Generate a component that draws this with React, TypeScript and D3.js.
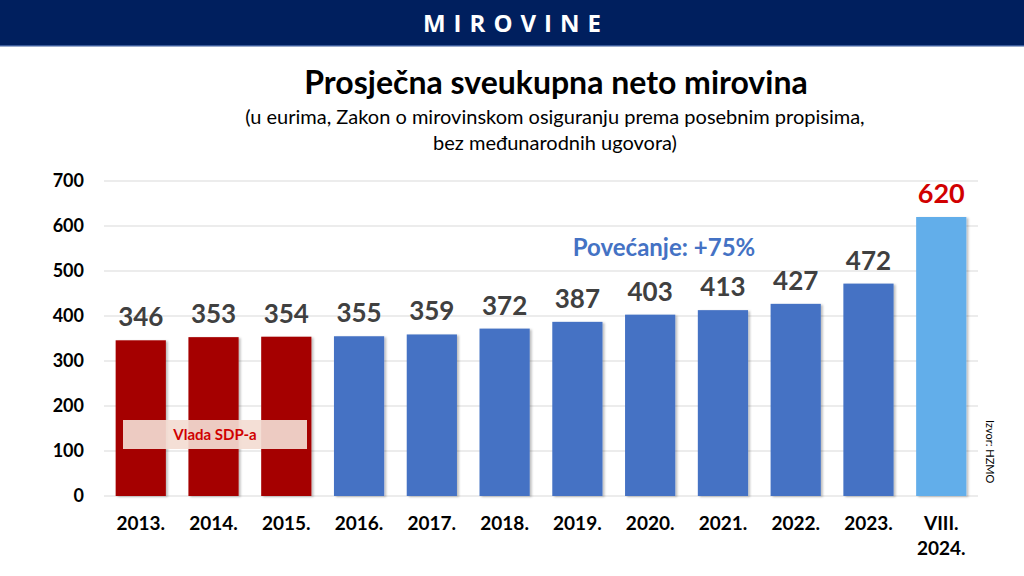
import React from "react";
import * as d3 from "d3";

const categories = ["2013.", "2014.", "2015.", "2016.", "2017.", "2018.", "2019.", "2020.", "2021.", "2022.", "2023.", "VIII.|2024."];
const values = [346, 353, 354, 355, 359, 372, 387, 403, 413, 427, 472, 620];
const groups = ["sdp", "sdp", "sdp", "hdz", "hdz", "hdz", "hdz", "hdz", "hdz", "hdz", "hdz", "current"];
const yTicks = [0, 100, 200, 300, 400, 500, 600, 700];

const W = 1024;
const H = 576;
const FONT = "Lato, 'Open Sans', sans-serif";
const colors: Record<string, string> = { sdp: "#A50000", hdz: "#4472C4", current: "#62AEEA" };

export default function App() {
  const x = d3.scaleBand<string>().domain(categories).range([104, 978]).paddingInner(0.31).paddingOuter(0.16);
  const y = d3.scaleLinear().domain([0, 700]).range([496, 181]);
  const bw = x.bandwidth();

  return (
    <svg width={W} height={H} style={{ position: "absolute", left: 0, top: 0, background: "#fff" }} fontFamily={FONT}>
      <defs>
        <filter id="sh" x="-10%" y="-5%" width="130%" height="110%">
          <feDropShadow dx="2" dy="1" stdDeviation="1.2" floodColor="#000" floodOpacity="0.25" />
        </filter>
      </defs>
      <rect x={0} y={0} width={W} height={46} fill="#001F5E" />
      <rect x={0} y={45} width={W} height={1.5} fill="#3A5A9A" />
      <text x={W / 2 + 4} y={32} textAnchor="middle" fill="#fff" fontSize={24} fontWeight={700} letterSpacing={8} fontFamily="'Open Sans', sans-serif">MIROVINE</text>

      <text x={556} y={94} textAnchor="middle" fontSize={32} fontWeight={700} fill="#000">Prosječna sveukupna neto mirovina</text>
      <text x={555} y={124} textAnchor="middle" fontSize={20} fill="#000">(u eurima, Zakon o mirovinskom osiguranju prema posebnim propisima,</text>
      <text x={555} y={150} textAnchor="middle" fontSize={20} fill="#000">bez međunarodnih ugovora)</text>

      {yTicks.map((t) => (
        <g key={t}>
          <line x1={104} x2={978} y1={y(t)} y2={y(t)} stroke="#D9D9D9" strokeWidth={1} />
          <text x={84} y={y(t) + 6} textAnchor="end" fontSize={18} fontWeight={700} fill="#000">{t}</text>
        </g>
      ))}

      {categories.map((c, i) => {
        const bx = x(c)!;
        const by = y(values[i]);
        const lines = c.split("|");
        return (
          <g key={c}>
            <rect x={bx} y={by} width={bw} height={y(0) - by} fill={colors[groups[i]]} filter="url(#sh)" />
            <text x={bx + bw / 2} y={by - 14} textAnchor="middle" fontSize={groups[i] === "current" ? 27 : 26} fontWeight={700} fill={groups[i] === "current" ? "#D10000" : "#404040"}>{values[i]}</text>
            {lines.map((l, j) => (
              <text key={j} x={bx + bw / 2} y={530 + j * 25} textAnchor="middle" fontSize={19} fontWeight={700} fill="#000">{l}</text>
            ))}
          </g>
        );
      })}

      <rect x={123} y={420} width={184} height={29} fill="#F3DCD2" fillOpacity={0.92} />
      <text x={215} y={440} textAnchor="middle" fontSize={15} fontWeight={700} fill="#D00000">Vlada SDP-a</text>

      <text x={664} y={256} textAnchor="middle" fontSize={24} fontWeight={700} fill="#4472C4">Povećanje: +75%</text>

      <text transform="translate(986,420) rotate(90)" fontSize={11} fill="#000">Izvor: HZMO</text>
    </svg>
  );
}
